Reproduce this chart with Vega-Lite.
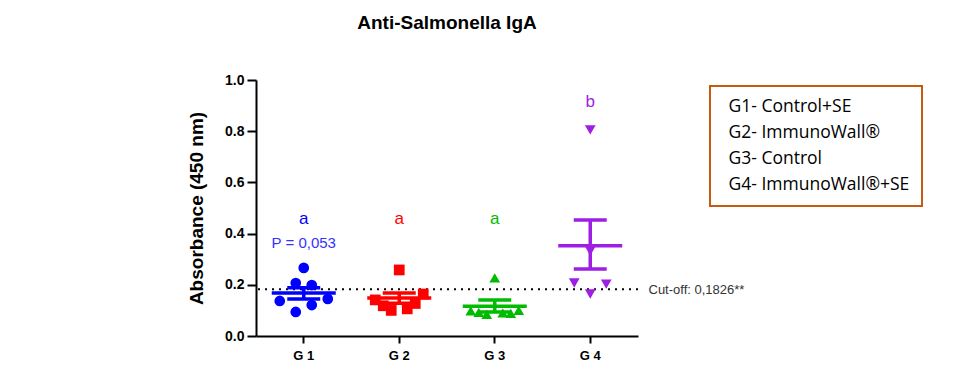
{
  "$schema": "https://vega.github.io/schema/vega-lite/v6.json",
  "width": 382,
  "height": 256,
  "autosize": {"type": "none"},
  "padding": {"left": 256, "top": 80, "right": 328, "bottom": 39},
  "background": "white",
  "title": {"text": "Anti-Salmonella IgA", "font": "Liberation Sans", "fontSize": 19, "fontWeight": "bold", "color": "black", "anchor": "middle", "frame": "group", "offset": 40},
  "config": {
    "view": {"stroke": null},
    "font": "Liberation Sans",
    "axis": {"domainColor": "black", "domainWidth": 2, "tickColor": "black", "tickWidth": 2, "labelColor": "black", "grid": false}
  },
  "datasets": {
    "points": [
      {"group": "G1", "value": 0.266, "slot": 0},
      {"group": "G1", "value": 0.207, "slot": -1},
      {"group": "G1", "value": 0.199, "slot": 1},
      {"group": "G1", "value": 0.137, "slot": -3},
      {"group": "G1", "value": 0.121, "slot": 1},
      {"group": "G1", "value": 0.145, "slot": 3},
      {"group": "G1", "value": 0.094, "slot": -1},
      {"group": "G2", "value": 0.258, "slot": 0},
      {"group": "G2", "value": 0.164, "slot": 3},
      {"group": "G2", "value": 0.141, "slot": -3},
      {"group": "G2", "value": 0.118, "slot": -2},
      {"group": "G2", "value": 0.100, "slot": -1},
      {"group": "G2", "value": 0.106, "slot": 1},
      {"group": "G2", "value": 0.127, "slot": 2},
      {"group": "G3", "value": 0.227, "slot": 0},
      {"group": "G3", "value": 0.098, "slot": -3},
      {"group": "G3", "value": 0.092, "slot": -2},
      {"group": "G3", "value": 0.085, "slot": -1},
      {"group": "G3", "value": 0.090, "slot": 1},
      {"group": "G3", "value": 0.088, "slot": 2},
      {"group": "G3", "value": 0.100, "slot": 3},
      {"group": "G4", "value": 0.805, "slot": 0},
      {"group": "G4", "value": 0.332, "slot": 0},
      {"group": "G4", "value": 0.207, "slot": -2},
      {"group": "G4", "value": 0.203, "slot": 2},
      {"group": "G4", "value": 0.164, "slot": 0}
    ],
    "summary": [
      {"group": "G1", "mean": 0.168, "lo": 0.145, "hi": 0.188},
      {"group": "G2", "mean": 0.148, "lo": 0.128, "hi": 0.168},
      {"group": "G3", "mean": 0.116, "lo": 0.094, "hi": 0.141},
      {"group": "G4", "mean": 0.353, "lo": 0.262, "hi": 0.453}
    ],
    "letters": [
      {"group": "G1", "pos": 0.4375, "label": "a"},
      {"group": "G2", "pos": 0.4375, "label": "a"},
      {"group": "G3", "pos": 0.4375, "label": "a"},
      {"group": "G4", "pos": 0.895, "label": "b"}
    ],
    "pvalue": [
      {"group": "G1", "pos": 0.344, "label": "P = 0,053"}
    ],
    "cutoff": [
      {"cutoff": 0.1826}
    ]
  },
  "resolve": {"axis": {"y": "independent"}},
  "layer": [
    {
      "data": {"name": "cutoff"},
      "mark": {"type": "rule", "strokeDash": [2, 5], "strokeWidth": 2, "color": "black"},
      "encoding": {
        "y": {"field": "cutoff", "type": "quantitative", "scale": {"domain": [0, 1], "nice": false},
          "axis": {"orient": "right", "values": [0.1826], "labelExpr": "'Cut-off: 0,1826**'", "domain": false, "ticks": false, "labelPadding": 10, "labelFontSize": 13, "labelColor": "#333333", "title": null}}
      }
    },
    {
      "layer": [
        {
          "data": {"name": "points"},
          "mark": {"type": "point", "filled": true, "opacity": 1, "size": 115},
          "encoding": {
            "x": {"field": "group", "type": "nominal", "scale": {"type": "band", "paddingInner": 0, "paddingOuter": 0, "domain": ["G1", "G2", "G3", "G4"]},
              "axis": {"title": null, "labelAngle": 0, "labelExpr": "replace(datum.label, 'G', 'G ')", "labelFontSize": 13, "labelFontWeight": "bold", "tickSize": 7, "labelPadding": 6}},
            "xOffset": {"field": "slot", "type": "quantitative", "scale": {"domain": [-3, 3], "range": [23.75, 71.75], "zero": false, "nice": false}},
            "y": {"field": "value", "type": "quantitative", "scale": {"domain": [0, 1], "nice": false},
              "axis": {"title": "Absorbance (450 nm)", "titleFontSize": 19, "titleFontWeight": "bold", "titleColor": "black", "titlePadding": 18, "values": [0, 0.2, 0.4, 0.6, 0.8, 1.0], "format": ".1f", "labelFontSize": 14, "labelFontWeight": "bold", "tickSize": 9, "labelPadding": 3}},
            "color": {"field": "group", "type": "nominal", "scale": {"domain": ["G1", "G2", "G3", "G4"], "range": ["#0000FF", "#FF0000", "#00BB00", "#9E1FE3"]},
              "legend": {"orient": "none", "legendX": 454, "legendY": 6, "title": null,
                "labelExpr": "{'G1': 'G1- Control+SE', 'G2': 'G2- ImmunoWall®', 'G3': 'G3- Control', 'G4': 'G4- ImmunoWall®+SE'}[datum.label]",
                "labelFont": "Open Sans", "labelFontSize": 17.5, "labelColor": "black", "labelLimit": 0,
                "symbolOpacity": 0, "symbolSize": 0, "symbolStrokeWidth": 0, "labelOffset": -11,
                "padding": 12, "rowPadding": 7, "strokeColor": "#C55A11", "fillColor": "white",
                "encode": {"legend": {"update": {"strokeWidth": {"value": 2}}}}}},
            "shape": {"field": "group", "type": "nominal", "scale": {"domain": ["G1", "G2", "G3", "G4"], "range": ["circle", "square", "triangle-up", "triangle-down"]}, "legend": null}
          }
        },
        {
          "data": {"name": "summary"},
          "mark": {"type": "tick", "orient": "horizontal", "size": 64, "thickness": 3.5, "opacity": 1},
          "encoding": {
            "x": {"field": "group", "type": "nominal"},
            "y": {"field": "mean", "type": "quantitative"},
            "color": {"field": "group", "type": "nominal"}
          }
        },
        {
          "data": {"name": "summary"},
          "mark": {"type": "tick", "orient": "horizontal", "size": 33, "thickness": 3.5, "opacity": 1},
          "encoding": {
            "x": {"field": "group", "type": "nominal"},
            "y": {"field": "lo", "type": "quantitative"},
            "color": {"field": "group", "type": "nominal"}
          }
        },
        {
          "data": {"name": "summary"},
          "mark": {"type": "tick", "orient": "horizontal", "size": 33, "thickness": 3.5, "opacity": 1},
          "encoding": {
            "x": {"field": "group", "type": "nominal"},
            "y": {"field": "hi", "type": "quantitative"},
            "color": {"field": "group", "type": "nominal"}
          }
        },
        {
          "data": {"name": "summary"},
          "mark": {"type": "rule", "strokeWidth": 3.5},
          "encoding": {
            "x": {"field": "group", "type": "nominal"},
            "y": {"field": "lo", "type": "quantitative"},
            "y2": {"field": "hi"},
            "color": {"field": "group", "type": "nominal"}
          }
        },
        {
          "data": {"name": "letters"},
          "mark": {"type": "text", "fontSize": 17, "baseline": "alphabetic", "align": "center"},
          "encoding": {
            "x": {"field": "group", "type": "nominal"},
            "y": {"field": "pos", "type": "quantitative"},
            "text": {"field": "label"},
            "color": {"field": "group", "type": "nominal"}
          }
        },
        {
          "data": {"name": "pvalue"},
          "mark": {"type": "text", "fontSize": 15, "baseline": "alphabetic", "align": "center", "color": "#3333FF"},
          "encoding": {
            "x": {"field": "group", "type": "nominal"},
            "y": {"field": "pos", "type": "quantitative"},
            "text": {"field": "label"}
          }
        }
      ]
    }
  ]
}
